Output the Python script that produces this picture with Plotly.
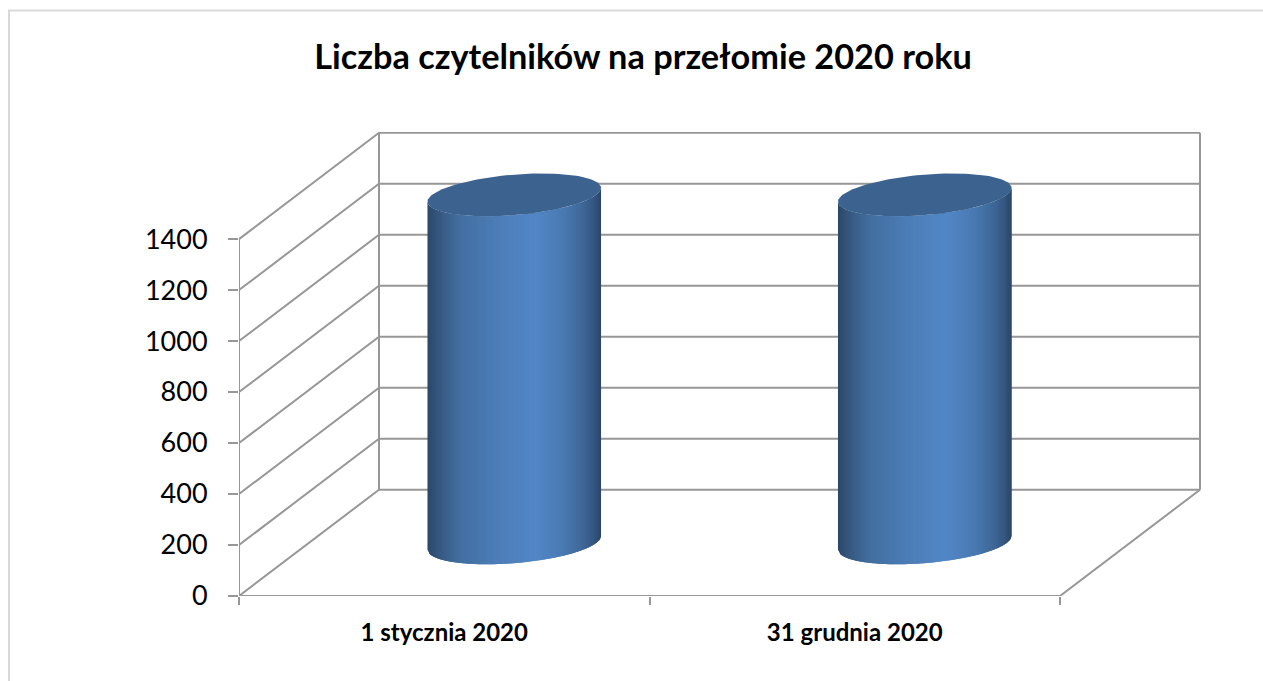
import numpy as np
import plotly.graph_objects as go

title = "Liczba czytelników na przełomie 2020 roku"
categories = ["1 stycznia 2020", "31 grudnia 2020"]
values = [1365, 1365]
y_ticks = [0, 200, 400, 600, 800, 1000, 1200, 1400]

W, H = 1263, 681
L, R, T, B = 239, 62, 131.5, 85.4
GRID = "#979797"
x_unit = 410.5          # px per category
y_unit = 51.0 / 200     # px per value
depth_x = 140 / x_unit  # oblique depth offset, in data units
depth_y = 106.3 / y_unit
x_max = (W - L - R) / x_unit
y_max = (H - T - B) / y_unit

stops = [(0.00, "#2b4668"), (0.06, "#35577f"), (0.18, "#426e9f"), (0.40, "#4c7db7"),
         (0.62, "#5286c6"), (0.78, "#4a7ab3"), (0.90, "#3d6696"), (0.96, "#345580"), (1.00, "#2b4565")]
TOP_COLOR = "#3c6390"


def rgb(h):
    return [int(h[i:i + 2], 16) for i in (1, 3, 5)]


def shade(p):
    pos = [s[0] for s in stops]
    ch = [np.interp(p, pos, [rgb(s[1])[k] for s in stops]) for k in range(3)]
    return "rgb(%d,%d,%d)" % tuple(round(c) for c in ch)


fig = go.Figure()


def line(xs, ys):
    fig.add_trace(go.Scatter(x=xs, y=ys, mode="lines", line=dict(color=GRID, width=2),
                             hoverinfo="skip", showlegend=False, cliponaxis=False))


# walls and gridlines
top = y_ticks[-1]
for v in y_ticks:
    line([0, depth_x, 2 + depth_x], [v, v + depth_y, v + depth_y])
line([0, 2, 2 + depth_x], [0, 0, depth_y])
line([0, 0], [0, top])
line([depth_x, depth_x], [depth_y, top + depth_y])
line([2 + depth_x, 2 + depth_x], [depth_y, top + depth_y])

# cylinders
a = 82.2 / x_unit
s = 27.8 / x_unit
h = 21.4 / y_unit
half = float(np.hypot(a, s))
phi = float(np.arctan2(s, a))
N = 90


def low(u):
    return h * np.sin(phi - np.arccos(np.clip(u / half, -1, 1)))


for i, v in enumerate(values):
    xc = i + 0.5 + depth_x / 2
    y0 = depth_y / 2
    us = np.linspace(-half, half, N + 1)
    for k in range(N):
        u0, u1 = us[k], us[min(k + 2, N)]
        um = np.linspace(u0, u1, 4)
        xs = list(xc + um) + list(xc + um[::-1])
        ys = list(y0 + low(um)) + list(y0 + v + low(um[::-1]))
        fig.add_trace(go.Scatter(x=xs, y=ys, mode="lines", fill="toself", line=dict(width=0),
                                 fillcolor=shade((k + 0.5) / N), hoverinfo="skip", showlegend=False))
    t = np.linspace(0, 2 * np.pi, 121)
    fig.add_trace(go.Scatter(x=xc + a * np.cos(t) + s * np.sin(t), y=y0 + v + h * np.sin(t),
                             mode="lines", fill="toself", line=dict(width=0), fillcolor=TOP_COLOR,
                             hoverinfo="skip", showlegend=False))

fig.update_layout(
    width=W, height=H, autosize=False,
    margin=dict(l=L, r=R, t=T, b=B, pad=0),
    paper_bgcolor="white", plot_bgcolor="white",
    font=dict(family="Lato, Carlito, sans-serif", color="#000000"),
    title=dict(text="<b>%s</b>" % title, x=643 / W, xanchor="center", y=1 - 57 / H, yanchor="middle",
               font=dict(size=34.3, color="#000000")),
    xaxis=dict(range=[0, x_max], tickmode="array", tickvals=[0.5, 1.5], ticktext=["<b>%s</b>" % c for c in categories],
               ticklen=0, showgrid=False, zeroline=False, showline=False, tickfont=dict(size=24),
               ticklabelstandoff=20, fixedrange=True,
               minor=dict(tickmode="array", tickvals=[0, 1, 2], ticks="outside", ticklen=8, tickwidth=2,
                          tickcolor=GRID, showgrid=False)),
    yaxis=dict(range=[0, y_max], tickmode="array", tickvals=y_ticks, ticks="outside", ticklen=10, tickwidth=2,
               tickcolor=GRID, showgrid=False, zeroline=False, showline=False, tickfont=dict(size=27),
               ticklabelstandoff=15, fixedrange=True),
    shapes=[dict(type="rect", xref="paper", yref="paper",
                 x0=(9 - L) / (W - L - R), x1=(W + 20 - L) / (W - L - R),
                 y0=(H - B - (H + 20)) / (H - T - B), y1=(H - B - 10) / (H - T - B),
                 line=dict(color="#d9d9d9", width=2), layer="below")],
)

fig.write_html("out.html", config=dict(displayModeBar=False),
               post_script="document.body.style.margin='0';")
